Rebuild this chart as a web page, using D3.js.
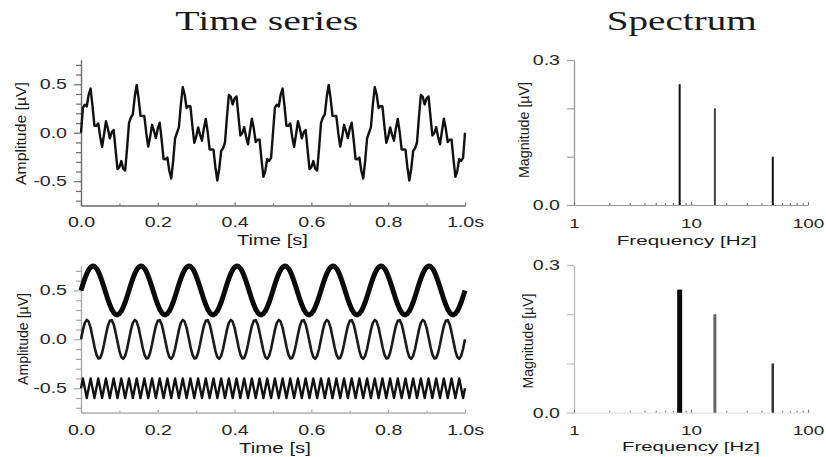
<!DOCTYPE html>
<html>
<head>
<meta charset="utf-8">
<script src="https://cdn.jsdelivr.net/npm/d3@7"></script>
<style>
  body { margin: 0; background: #fff; }
  text { font-family: "Liberation Sans", Arial, sans-serif; fill: #222; }
</style>
</head>
<body>
<div id="chart"></div>
<script>
const svgWidth = 826;
const svgHeight = 457;

// spectral components
const componentFreqs = [8, 16, 50];          // Hz
const componentMags = [0.25, 0.2, 0.1];      // µV
// offsets of the single components in the lower time panel (µV)
const componentOffsets = [0.5, 0.0, -0.5];
const sampleRate = 200;  // Hz
const duration = 1.0;    // s

const timeTicks = [0, 0.2, 0.4, 0.6, 0.8, 1.0];
const timeMinorTicks = [0.1, 0.3, 0.5, 0.7, 0.9];
const ampTicks = [-0.5, 0.0, 0.5];
const ampMinorTicks = [-0.7, -0.6, -0.4, -0.3, -0.2, -0.1, 0.1, 0.2, 0.3, 0.4, 0.6, 0.7];
const freqTicks = [1, 10, 100];
const freqMinorTicks = [2, 3, 4, 5, 6, 7, 8, 9, 20, 30, 40, 50, 60, 70, 80, 90];
const magTicks = [0.0, 0.1, 0.2, 0.3];
const magLabels = [0.0, 0.3];

const SX = 1.4; // the reference is stretched sideways

const svg = d3.select('#chart')
    .append('svg')
    .attr('width', svgWidth)
    .attr('height', svgHeight);

const times = d3.range(0, duration * sampleRate + 1).map(i => i / sampleRate);

function componentValue(k, t) {
    return componentMags[k] * Math.sin(2 * Math.PI * componentFreqs[k] * t);
}

const mixedSignal = times.map(t => ({
    t: t,
    v: d3.sum(componentFreqs, (f, k) => componentValue(k, t))
}));

const singleSignals = componentFreqs.map((f, k) => times.map(t => ({
    t: t,
    v: componentOffsets[k] + componentValue(k, t)
})));

function addLabel(txt, cx, cy, width, size, family, rotate) {
    const t = svg.append('text')
        .text(txt)
        .attr('font-size', size)
        .attr('text-anchor', 'middle')
        .style('font-family', family)
        .style('fill', '#1a1a1a');
    const s = width / t.node().getComputedTextLength();
    if (rotate) {
        t.attr('dominant-baseline', 'central')
            .attr('transform', `translate(${cx},${cy}) rotate(-90) scale(${s},1)`);
    } else {
        t.attr('transform', `translate(${cx},${cy}) scale(${s},1)`);
    }
}

function styleAxis(g, color, fontSize) {
    g.selectAll('path, line').attr('stroke', color).attr('stroke-width', 1.2);
    g.selectAll('text').attr('font-size', fontSize).style('fill', '#262626');
}

function leftAxis(y, xPos, major, minor, color) {
    const gMinor = svg.append('g')
        .attr('transform', `translate(${xPos},0)`)
        .call(d3.axisLeft(y).tickValues(minor).tickSize(5).tickSizeOuter(0).tickFormat(''));
    styleAxis(gMinor, color, 14);
    const gMajor = svg.append('g')
        .attr('transform', `translate(${xPos},0)`)
        .call(d3.axisLeft(y).tickValues(major).tickSize(7).tickSizeOuter(0)
            .tickFormat(d => d.toFixed(1)));
    styleAxis(gMajor, color, 14);
    gMajor.selectAll('text')
        .attr('x', -14 / SX)
        .attr('transform', `scale(${SX},1)`);
    return gMajor;
}

function bottomAxis(x, yPos, major, minor, fmt, color, lineColor, labelY, fontSize) {
    const gMinor = svg.append('g')
        .attr('transform', `translate(0,${yPos})`)
        .call(d3.axisBottom(x).tickValues(minor).tickSize(-2).tickSizeOuter(0).tickFormat(''));
    styleAxis(gMinor, color, fontSize);
    const gMajor = svg.append('g')
        .attr('transform', `translate(0,${yPos})`)
        .call(d3.axisBottom(x).tickValues(major).tickSize(-3).tickSizeOuter(0).tickFormat(fmt));
    styleAxis(gMajor, color, fontSize);
    gMinor.select('.domain').attr('stroke', lineColor);
    gMajor.select('.domain').attr('stroke', lineColor);
    gMajor.selectAll('text')
        .attr('y', labelY)
        .attr('transform', `scale(${SX},1)`);
    return gMajor;
}

function drawTimePanel(top, bottom, axisColor, lineColor, labelY, series, widths, colors) {
    const x = d3.scaleLinear().domain([0, duration]).range([81, 465]);
    const y = d3.scaleLinear().domain([-0.75, 0.75]).range([bottom, top]);

    leftAxis(y, x(0), ampTicks, ampMinorTicks, axisColor);
    bottomAxis(x, bottom, timeTicks, timeMinorTicks,
        d => d === 1 ? '1.0s' : d.toFixed(1), axisColor, lineColor, labelY, 14);

    const line = d3.line()
        .x(d => x(d.t))
        .y(d => y(d.v));

    svg.append('g')
        .selectAll('path')
        .data(series)
        .enter()
        .append('path')
        .attr('d', line)
        .attr('fill', 'none')
        .attr('stroke', (d, i) => colors[i])
        .attr('stroke-width', (d, i) => widths[i])
        .attr('stroke-linejoin', 'round');
}

function drawSpectrumPanel(top, bottom, axisColor, lineColor, labelY, widths, colors) {
    const x = d3.scaleLog().domain([1, 100]).range([574, 808]);
    const y = d3.scaleLinear().domain([0, 0.3]).range([bottom, top]);

    const gy = leftAxis(y, x(1), magTicks, [], axisColor);
    gy.selectAll('.tick')
        .filter(d => !magLabels.includes(d))
        .select('text').remove();
    bottomAxis(x, bottom, freqTicks, freqMinorTicks, d => String(d),
        '#777', lineColor, labelY, 13.5);

    svg.append('g')
        .selectAll('line')
        .data(componentFreqs)
        .enter()
        .append('line')
        .attr('x1', d => x(d))
        .attr('x2', d => x(d))
        .attr('y1', y(0))
        .attr('y2', (d, i) => y(componentMags[i]))
        .attr('stroke', (d, i) => colors[i])
        .attr('stroke-width', (d, i) => widths[i]);
}

// top row: mixed signal and its spectrum
drawTimePanel(60, 205.5, '#6a6a6a', '#6a6a6a', 11.5, [mixedSignal], [2.4], ['#111']);
drawSpectrumPanel(60, 205, '#a0a0a0', '#9a9a9a', 13.5, [2, 2, 2], ['#111', '#444', '#111']);

// bottom row: single components and their spectrum
drawTimePanel(266, 412.7, '#a8a8a8', '#b8b8b8', 12.5, singleSignals, [5, 2.6, 2.4], ['#0a0a0a', '#1a1a1a', '#111']);
drawSpectrumPanel(265, 412.7, '#bdbdbd', '#ececec', 13.2, [5, 3, 2.5], ['#0a0a0a', '#666', '#333']);

// titles
addLabel('Time series', 266.7, 30, 183, 28, '"Liberation Serif", "Times New Roman", serif', false);
addLabel('Spectrum', 681.7, 30, 150, 28, '"Liberation Serif", "Times New Roman", serif', false);

// axis titles
const sans = '"Liberation Sans", Arial, sans-serif';
addLabel('Time [s]', 272.5, 244.5, 71, 14, sans, false);
addLabel('Time [s]', 275, 453, 72, 14, sans, false);
addLabel('Frequency [Hz]', 686.7, 245, 140, 13, sans, false);
addLabel('Frequency [Hz]', 691, 451, 138, 13, sans, false);
addLabel('Amplitude [µV]', 21, 133.5, 103, 14, sans, true);
addLabel('Amplitude [µV]', 23, 339, 92, 14, sans, true);
addLabel('Magnitude [µV]', 524, 130, 96, 14, sans, true);
addLabel('Magnitude [µV]', 528, 341, 95, 14, sans, true);
</script>
</body>
</html>
